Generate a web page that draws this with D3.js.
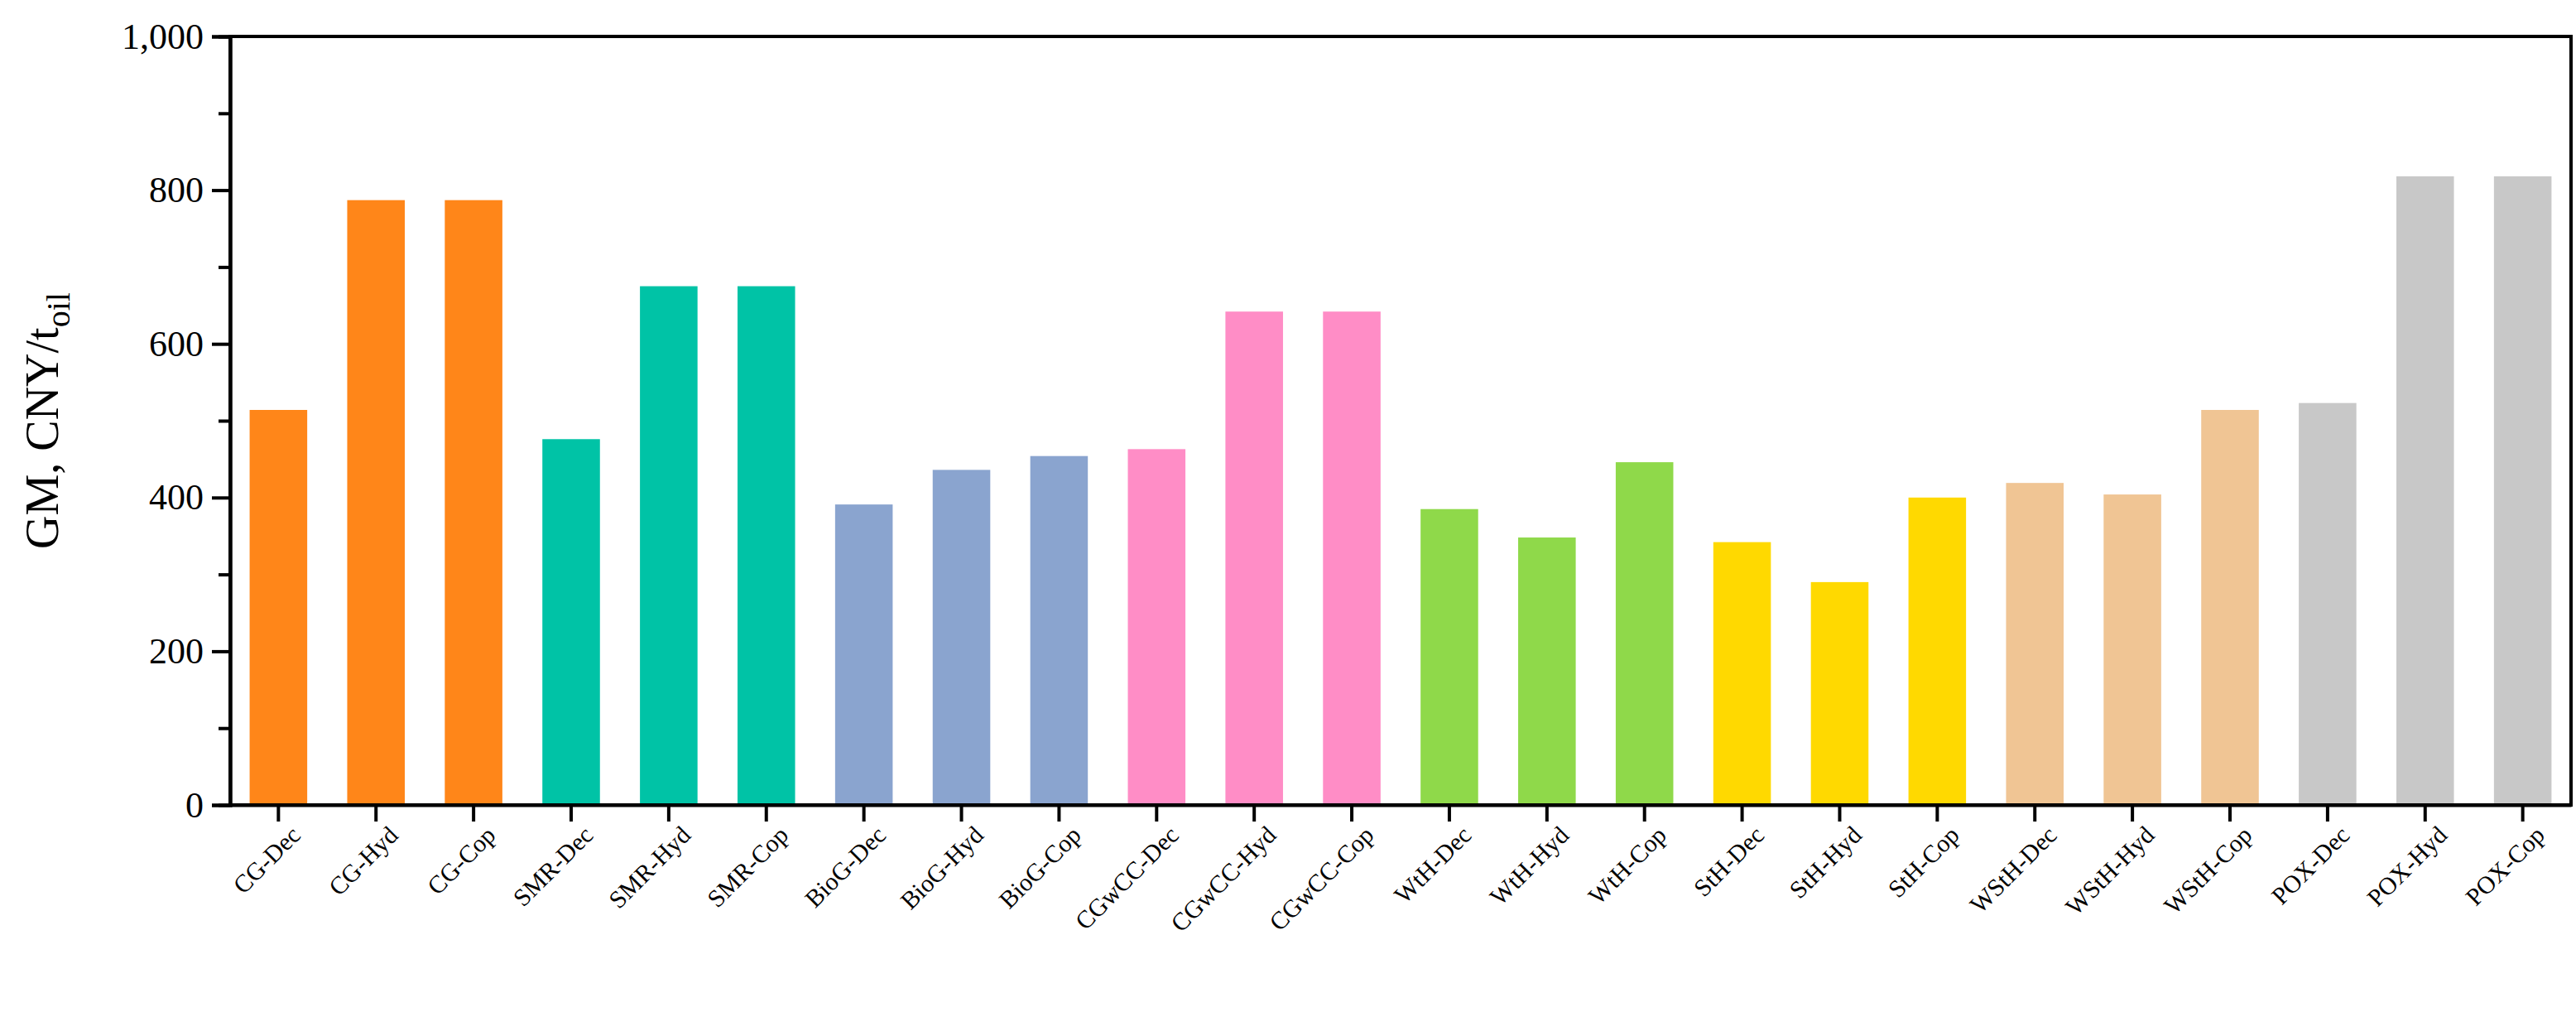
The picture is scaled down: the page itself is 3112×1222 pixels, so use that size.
<!DOCTYPE html>
<html><head><meta charset="utf-8">
<script src="https://cdn.jsdelivr.net/npm/d3@7"></script>
<style>body{margin:0;background:#fff}</style></head>
<body><svg id="c" width="3112" height="1222"></svg>
<script>
const categories=["CG-Dec","CG-Hyd","CG-Cop","SMR-Dec","SMR-Hyd","SMR-Cop","BioG-Dec","BioG-Hyd","BioG-Cop","CGwCC-Dec","CGwCC-Hyd","CGwCC-Cop","WtH-Dec","WtH-Hyd","WtH-Cop","StH-Dec","StH-Hyd","StH-Cop","WStH-Dec","WStH-Hyd","WStH-Cop","POX-Dec","POX-Hyd","POX-Cop"];
const values=[514,787,787,476,675,675,391,436,454,463,642,642,385,348,446,342,290,400,419,404,514,523,818,818];
const groupColors=["#FF8619","#00C3A6","#8AA4CF","#FF8DC6","#8FD94A","#FFD900","#F0C594","#C8C8C8"];
const yTicks=[0,200,400,600,800,1000];
const m={l:278,r:6,t:44,b:250};
const W=3112,H=1222;
const svg=d3.select("#c");
const x=d3.scaleBand().domain(categories).range([m.l,W-m.r]).paddingInner(0.41).paddingOuter(0.2);
const y=d3.scaleLinear().domain([0,1000]).range([H-m.b,m.t]);
svg.selectAll("rect.bar").data(categories).enter().append("rect")
 .attr("x",d=>x(d)).attr("width",x.bandwidth())
 .attr("y",(d,i)=>y(values[i])).attr("height",(d,i)=>y(0)-y(values[i]))
 .attr("fill",(d,i)=>groupColors[Math.floor(i/3)]);
const font="'Liberation Serif','Times New Roman',serif";
// minor ticks
const ya=svg.append("g").attr("transform",`translate(${m.l},0)`)
 .call(d3.axisLeft(y).tickValues(d3.range(100,1000,200)).tickSize(14).tickFormat(""));
const yb=svg.append("g").attr("transform",`translate(${m.l},0)`)
 .call(d3.axisLeft(y).tickValues(yTicks).tickSize(22).tickPadding(10));
yb.selectAll("text").attr("font-family",font).attr("font-size",44).attr("fill","#000");
const xa=svg.append("g").attr("transform",`translate(0,${y(0)})`)
 .call(d3.axisBottom(x).tickSize(20).tickSizeOuter(0));
xa.selectAll("text").attr("font-family",font).attr("font-size",30).attr("fill","#000")
 .attr("text-anchor","end").attr("dy",0)
 .attr("transform","translate(12,22) rotate(-45)");
svg.selectAll(".domain,.tick line").attr("stroke","#000").attr("stroke-width",4);
svg.append("rect").attr("x",m.l).attr("y",m.t).attr("width",W-m.r-m.l).attr("height",y(0)-m.t)
 .attr("fill","none").attr("stroke","#000").attr("stroke-width",4);
const t=svg.append("text").attr("transform",`translate(70,${(m.t+y(0))/2}) rotate(-90)`)
 .attr("text-anchor","middle").attr("font-family",font).attr("font-size",56);
t.append("tspan").text("GM, CNY/t");
t.append("tspan").attr("font-size",40).attr("dy",14).text("oil");
</script></body></html>
